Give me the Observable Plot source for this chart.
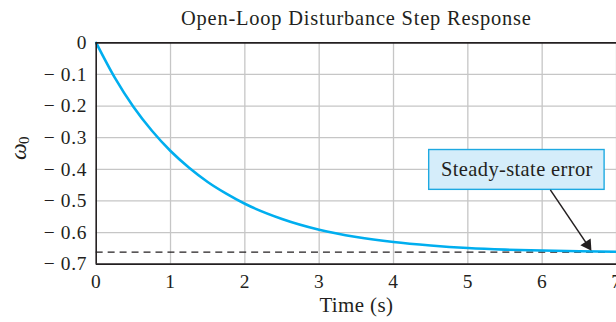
<!DOCTYPE html>
<html>
<head>
<meta charset="utf-8">
<script src="https://cdn.jsdelivr.net/npm/d3@7"></script>
<script src="https://cdn.jsdelivr.net/npm/@observablehq/plot@0.6"></script>
<style>
  html, body { margin: 0; padding: 0; background: #fff; overflow: hidden; }
  #chart svg { display: block; }
  #chart svg g[aria-label$="tick label"],
  #chart svg g[aria-label$="tick label"] text { font-size: 19.5px !important; letter-spacing: 0.7px; }
  #chart svg text { letter-spacing: 0.4px; }
  #chart svg g.title text { letter-spacing: 0.8px; }
</style>
</head>
<body>
<div id="chart"></div>
<script>
// ---- data ----
const time  = [0, 0.25, 0.5, 0.75, 1, 1.25, 1.5, 1.75, 2, 2.5, 3, 3.5, 4, 4.5, 5, 5.5, 6, 6.5, 7];
const omega = [0, -0.110, -0.202, -0.278, -0.342, -0.395, -0.440, -0.477, -0.509, -0.557, -0.591, -0.614, -0.630, -0.641, -0.649, -0.654, -0.657, -0.659, -0.661];
const xTicks = [0, 1, 2, 3, 4, 5, 6, 7];
const yTicks = [0, -0.1, -0.2, -0.3, -0.4, -0.5, -0.6, -0.7];
const steadyState = -0.662;
const titleText = "Open-Loop Disturbance Step Response";
const xLabel = "Time (s)";
const annotationText = "Steady-state error";

// annotation placement (data units)
const boxX1 = 4.48, boxX2 = 6.84, boxY1 = -0.339, boxY2 = -0.465;
const arrowX1 = 6.11, arrowY1 = -0.465, headX = 6.61, headY = -0.639;

const series = time.map((t, i) => ({t, w: omega[i]}));
const ink = "#231f20";

const chart = Plot.plot({
  width: 618,
  height: 322,
  marginLeft: 96,
  marginRight: 0,
  marginTop: 42.5,
  marginBottom: 57.5,
  x: {domain: [0, 7]},
  y: {domain: [-0.7, 0]},
  style: {fontFamily: "'Liberation Serif', 'DejaVu Serif', serif", fontSize: "19.5px", color: ink, background: "#fff"},
  marks: [
    Plot.gridX(xTicks.filter(d => d > 0), {stroke: "#c6c6c6", strokeOpacity: 1, strokeWidth: 1.3}),
    Plot.gridY(yTicks.filter(d => d < 0 && d > -0.7), {stroke: "#c6c6c6", strokeOpacity: 1, strokeWidth: 1.3}),
    Plot.ruleY([steadyState], {stroke: ink, strokeWidth: 1.3, strokeDasharray: "7,5"}),
    Plot.line(series, {x: "t", y: "w", stroke: "#00aeef", strokeWidth: 2.6, curve: "monotone-x"}),
    Plot.ruleY([0, -0.7], {stroke: ink, strokeWidth: 1.6}),
    Plot.ruleX([0], {stroke: ink, strokeWidth: 1.6}),
    Plot.axisX({ticks: xTicks, tickSize: 0, tickPadding: 10, label: null, fontSize: 19.5,
      tickFormat: d => String(d)}),
    Plot.axisY({ticks: yTicks, tickSize: 0, tickPadding: 9, label: null, fontSize: 19.5,
      tickFormat: d => d === 0 ? "0" : "\u2212 " + Math.abs(d).toFixed(1)}),
    // annotation box
    Plot.rect([annotationText], {x1: () => boxX1, x2: () => boxX2, y1: () => boxY1, y2: () => boxY2,
      fill: "#d5edfa", stroke: "#1ea9e1", strokeWidth: 1.4}),
    Plot.text([annotationText], {x: () => (boxX1 + boxX2) / 2, y: () => (boxY1 + boxY2) / 2, text: d => d,
      fontSize: 20.5, fill: ink}),
    // arrow
    Plot.link([annotationText], {x1: () => arrowX1, y1: () => arrowY1, x2: () => headX, y2: () => headY,
      stroke: ink, strokeWidth: 1.5}),
    Plot.dot([annotationText], {x: () => headX, y: () => headY, symbol: "triangle", r: 4.6,
      fill: ink, stroke: "none", rotate: 146.5}),
    // title and axis labels
    Plot.text([titleText], {frameAnchor: "top", lineAnchor: "middle", dy: -24, text: d => d, fontSize: 20.5, fill: ink, className: "title"}),
    Plot.text([xLabel], {frameAnchor: "bottom", lineAnchor: "middle", dy: 41.5, text: d => d, fontSize: 21, fill: ink}),
    Plot.text(["ω"], {frameAnchor: "left", dx: -78, dy: 6.5, text: d => d, rotate: -90, fontSize: 24, fontStyle: "italic", fill: ink}),
    Plot.text(["0"], {frameAnchor: "left", dx: -72, dy: -9.5, text: d => d, rotate: -90, fontSize: 15, fill: ink})
  ]
});
document.getElementById("chart").appendChild(chart);
</script>
</body>
</html>
